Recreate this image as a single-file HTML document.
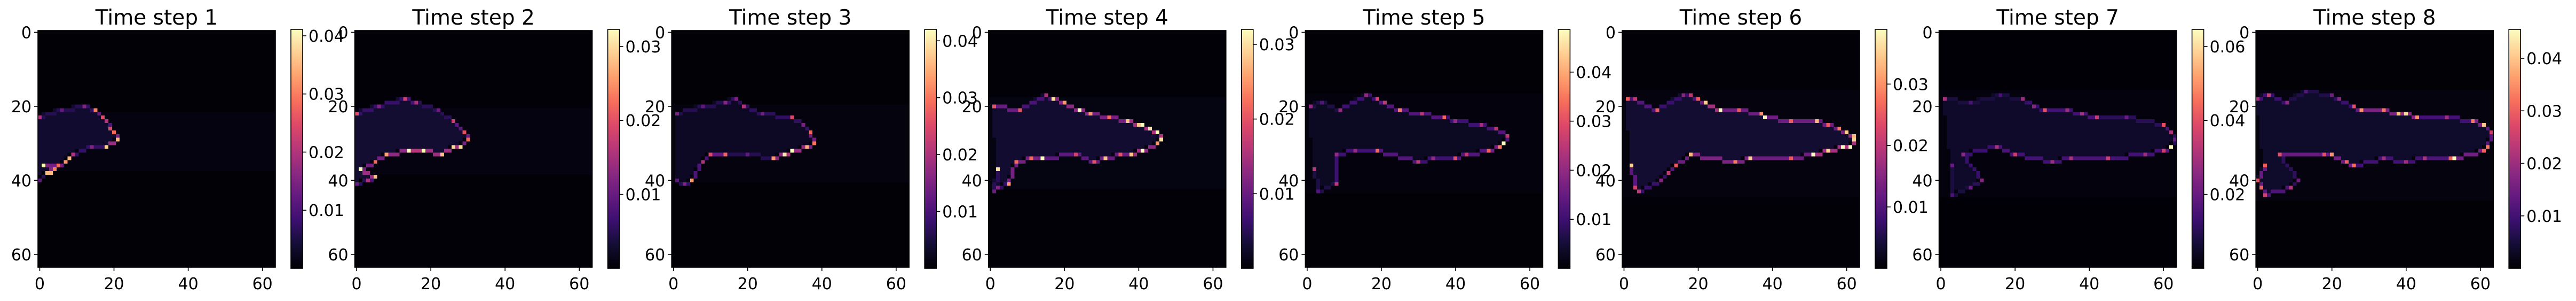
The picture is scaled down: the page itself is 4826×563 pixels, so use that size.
<!DOCTYPE html>
<html><head><meta charset="utf-8">
<style>
html,body{margin:0;padding:0;background:#fff;}
body{width:4826px;height:563px;position:relative;overflow:hidden;font-family:"DejaVu Sans","Liberation Sans",sans-serif;}
canvas.hm{position:absolute;image-rendering:pixelated;}
canvas.cb{position:absolute;}
svg{position:absolute;left:0;top:0;}
</style></head>
<body>
<svg id="ov" width="4826" height="563"></svg>
<script>
// ---- chart data ----
const panelTitles = ["Time step 1","Time step 2","Time step 3","Time step 4","Time step 5","Time step 6","Time step 7","Time step 8"];
const vmaxs = [0.0411,0.0323,0.042,0.032,0.0487,0.0389,0.0646,0.0455];
const vmins = [0,0,0,0,0,0,0,0];
const cbTickVals = [[0.01,0.02,0.03,0.04],[0.01,0.02,0.03],[0.01,0.02,0.03,0.04],[0.01,0.02,0.03],[0.01,0.02,0.03,0.04],[0.01,0.02,0.03],[0.02,0.04,0.06],[0.01,0.02,0.03,0.04]];
const cbTickLabels = [["0.01","0.02","0.03","0.04"],["0.01","0.02","0.03"],["0.01","0.02","0.03","0.04"],["0.01","0.02","0.03"],["0.01","0.02","0.03","0.04"],["0.01","0.02","0.03"],["0.02","0.04","0.06"],["0.01","0.02","0.03","0.04"]];
const axisTicks = [0,20,40,60];
const axisTickLabels = ["0","20","40","60"];
const interiorVals = [0.0035,0.003,0.0028,0.0028,0.003,0.0035,0.0048,0.0035];
const wakeRects = [[0,63,22,37,0.0009],[0,63,21,38,0.0008],[0,63,20,40,0.0008],[0,63,18,42,0.0008],[0,63,17,43,0.0009],[0,63,16,44,0.0008],[0,63,16,44,0.0012],[0,63,16,45,0.0009]];
const edgesP1 = [[0,23,0.02],[6,21,0.012],[12,20,0.015],[15,21,0.03],[17,23,0.025],[18,24,0.02],[19,26,0.025],[20,27,0.028],[21,29,0.035],[18,31,0.037],[14,31,0.015],[9,33,0.02],[8,34,0.035],[7,35,0.032],[5,36,0.028],[1,36,0.041],[4,37,0.03],[3,38,0.035],[2,38,0.035],[0,40,0.012]];
const edgesP2 = [[0,22,0.02],[6,20,0.012],[13,18,0.018],[16,19,0.015],[22,21,0.01],[26,24,0.018],[29,27,0.02],[30,29,0.022],[28,31,0.03],[26,31,0.03],[23,33,0.028],[18,32,0.032],[14,32,0.033],[8,33,0.026],[5,35,0.022],[1,37,0.033],[5,39,0.028],[3,40,0.015],[0,41,0.01]];
const edgesP3 = [[1,22,0.015],[8,20,0.012],[14,19,0.016],[17,18,0.015],[19,20,0.02],[24,22,0.014],[32,23,0.025],[35,25,0.015],[37,27,0.028],[38,30,0.03],[36,31,0.035],[32,32,0.042],[30,33,0.04],[27,34,0.033],[20,33,0.012],[14,33,0.028],[10,33,0.025],[8,35,0.02],[5,40,0.033],[3,41,0.015],[1,40,0.012]];
const edgesP4 = [[1,20,0.02],[8,21,0.02],[15,17,0.015],[17,18,0.03],[20,19,0.025],[24,21,0.033],[27,22,0.025],[32,23,0.022],[37,24,0.028],[40,25,0.028],[41,25,0.032],[43,26,0.03],[45,27,0.032],[46,29,0.03],[45,30,0.025],[41,32,0.032],[38,33,0.028],[35,33,0.02],[31,34,0.028],[28,35,0.02],[23,33,0.018],[14,34,0.032],[11,34,0.022],[7,35,0.022],[5,41,0.025],[2,42,0.012],[1,43,0.01],[2,37,0.03]];
const edgesP5 = [[1,20,0.02],[4,19,0.012],[9,21,0.02],[16,17,0.02],[19,18,0.028],[21,19,0.025],[25,21,0.035],[31,22,0.025],[37,23,0.033],[40,24,0.02],[47,25,0.022],[51,26,0.025],[54,28,0.025],[53,30,0.049],[52,31,0.035],[49,32,0.032],[43,33,0.025],[40,34,0.03],[34,34,0.02],[30,35,0.025],[19,32,0.033],[13,32,0.02],[8,33,0.02],[8,41,0.025],[3,43,0.012],[2,37,0.025]];
const edgesP6 = [[1,18,0.025],[3,18,0.02],[9,21,0.025],[16,17,0.015],[18,17,0.02],[20,18,0.025],[22,19,0.035],[26,21,0.039],[31,21,0.025],[37,22,0.03],[38,23,0.039],[45,24,0.025],[52,24,0.033],[55,25,0.025],[58,26,0.028],[60,27,0.035],[62,28,0.033],[62,29,0.035],[61,31,0.039],[59,31,0.039],[55,32,0.035],[51,33,0.039],[45,34,0.025],[34,34,0.035],[30,35,0.028],[18,33,0.033],[14,36,0.025],[12,38,0.02],[10,40,0.015],[4,43,0.02],[3,42,0.022],[2,36,0.035]];
const edgesP7 = [[1,18,0.03],[8,19,0.015],[16,17,0.015],[22,18,0.028],[25,20,0.025],[28,21,0.04],[34,21,0.028],[38,22,0.03],[42,23,0.035],[50,23,0.02],[60,25,0.04],[62,27,0.03],[63,29,0.02],[62,31,0.065],[60,32,0.035],[55,33,0.028],[45,34,0.035],[35,34,0.03],[30,35,0.028],[20,33,0.035],[15,31,0.03],[6,33,0.025],[11,40,0.025],[8,42,0.02],[3,44,0.015],[3,36,0.02]];
const edgesP8 = [[0,18,0.02],[3,17,0.025],[8,19,0.018],[13,16,0.012],[20,17,0.015],[22,18,0.018],[26,20,0.028],[28,21,0.035],[34,21,0.032],[38,22,0.04],[40,22,0.042],[43,23,0.035],[51,23,0.02],[58,24,0.032],[61,25,0.04],[63,27,0.025],[62,31,0.033],[61,32,0.03],[53,34,0.045],[52,34,0.03],[45,34,0.022],[40,35,0.02],[34,34,0.02],[26,36,0.032],[24,35,0.03],[20,33,0.035],[18,33,0.028],[6,33,0.028],[11,40,0.015],[9,42,0.022],[2,44,0.025],[1,42,0.03],[0,40,0.028],[2,36,0.03]];
const allEdges = [edgesP1,edgesP2,edgesP3,edgesP4,edgesP5,edgesP6,edgesP7,edgesP8];

// ---- layout ----
const PANEL_DX = 593.6, IMG_X = 71, IMG_Y = 57, IMG_W = 445, IMG_H = 443;
const CB_X = 545, CB_Y = 55, CB_W = 22, CB_H = 447, N = 64;
const magma = [[0,0,4],[20,14,54],[59,15,112],[100,26,128],[140,41,129],[183,55,121],[222,73,104],[247,112,92],[254,159,109],[254,207,146],[252,253,191]];
function cmap(t){t=Math.max(0,Math.min(1,t));const s=t*10,i=Math.min(9,Math.floor(s)),f=s-i;const a=magma[i],b=magma[i+1];return [0,1,2].map(k=>Math.round(a[k]+(b[k]-a[k])*f));}
function inPoly(x,y,pts){let c=false;for(let i=0,j=pts.length-1;i<pts.length;j=i++){const xi=pts[i][0],yi=pts[i][1],xj=pts[j][0],yj=pts[j][1];if(((yi>y)!==(yj>y))&&(x<(xj-xi)*(y-yi)/(yj-yi)+xi))c=!c;}return c;}
const svg=document.getElementById('ov');const NS='http://www.w3.org/2000/svg';
function mk(tag,attrs,parent){const e=document.createElementNS(NS,tag);for(const k in attrs)e.setAttribute(k,attrs[k]);(parent||svg).appendChild(e);return e;}

for(let p=0;p<8;p++){
  const dx=p*PANEL_DX, vmax=vmaxs[p], vmin=vmins[p];
  const grid=[];for(let r=0;r<N;r++){grid.push(new Array(N).fill(0.0002));}
  const w=wakeRects[p];
  for(let r=w[2];r<=w[3];r++)for(let c=w[0];c<=w[1];c++)grid[r][c]=Math.max(grid[r][c],w[4]);
  const pts=allEdges[p];
  for(let r=0;r<N;r++)for(let c=0;c<N;c++)if(inPoly(c+0.5,r+0.5,pts))grid[r][c]=Math.max(grid[r][c],interiorVals[p]);
  for(let i=0;i<pts.length-1;i++){const a=pts[i],b=pts[i+1];const st=Math.max(1,Math.round(Math.max(Math.abs(b[0]-a[0]),Math.abs(b[1]-a[1]))));
    for(let s=0;s<=st;s++){const t=s/st;const c=Math.round(a[0]+(b[0]-a[0])*t),r=Math.round(a[1]+(b[1]-a[1])*t);const v=(s===0)?a[2]:(s===st?b[2]:Math.min(a[2],b[2])*0.5);
      if(r>=0&&r<N&&c>=0&&c<N)grid[r][c]=Math.max(grid[r][c],v);}}
  const cv=document.createElement('canvas');cv.width=N;cv.height=N;cv.className='hm';
  
  
  cv.style.left=(IMG_X+dx)+'px';cv.style.top=IMG_Y+'px';cv.style.width=IMG_W+'px';cv.style.height=IMG_H+'px';
  const ctx=cv.getContext('2d');const im=ctx.createImageData(N,N);
  for(let r=0;r<N;r++)for(let c=0;c<N;c++){const col=cmap((grid[r][c]-vmin)/(vmax-vmin));const o=(r*N+c)*4;im.data[o]=col[0];im.data[o+1]=col[1];im.data[o+2]=col[2];im.data[o+3]=255;}
  ctx.putImageData(im,0,0);document.body.insertBefore(cv,svg);
  const cb=document.createElement('canvas');cb.width=1;cb.height=CB_H;cb.className='cb';
  
  
  cb.style.left=(CB_X+dx)+'px';cb.style.top=CB_Y+'px';cb.style.width=CB_W+'px';cb.style.height=CB_H+'px';
  const cctx=cb.getContext('2d');for(let y=0;y<CB_H;y++){const col=cmap(1-y/(CB_H-1));cctx.fillStyle='rgb('+col.join(',')+')';cctx.fillRect(0,y,1,1);}
  document.body.insertBefore(cb,svg);

  const g=mk('g',{});
  
  
  const fr=mk('rect',{x:IMG_X+dx,y:IMG_Y,width:IMG_W,height:IMG_H,fill:'none',stroke:'#000','stroke-width':1.6},g);
  
  
  const ti=mk('text',{x:IMG_X+dx+IMG_W/2,y:46,'text-anchor':'middle','font-size':39,fill:'#000'},g);ti.textContent=panelTitles[p];
  
  
  for(let i=0;i<axisTicks.length;i++){
    const yy=IMG_Y+(axisTicks[i]+0.5)*IMG_H/N;
    mk('line',{x1:IMG_X+dx-7,x2:IMG_X+dx,y1:yy,y2:yy,stroke:'#000','stroke-width':1.6},g);
    const yl=mk('text',{x:IMG_X+dx-12,y:yy+11,'text-anchor':'end','font-size':30,fill:'#000'},g);yl.textContent=axisTickLabels[i];
    
    
    const xx=IMG_X+dx+(axisTicks[i]+0.5)*IMG_W/N;
    mk('line',{x1:xx,x2:xx,y1:IMG_Y+IMG_H,y2:IMG_Y+IMG_H+7,stroke:'#000','stroke-width':1.6},g);
    const xl=mk('text',{x:xx,y:541,'text-anchor':'middle','font-size':30,fill:'#000'},g);xl.textContent=axisTickLabels[i];
    
    
  }
  const cf=mk('rect',{x:CB_X+dx,y:CB_Y,width:CB_W,height:CB_H,fill:'none',stroke:'#000','stroke-width':1.6},g);
  
  
  const tv=cbTickVals[p];
  for(let i=0;i<tv.length;i++){
    const yy=CB_Y+CB_H*(1-(tv[i]-vmin)/(vmax-vmin));
    mk('line',{x1:CB_X+dx+CB_W,x2:CB_X+dx+CB_W+7,y1:yy,y2:yy,stroke:'#000','stroke-width':1.6},g);
    const cl=mk('text',{x:CB_X+dx+CB_W+11,y:yy+11,'text-anchor':'start','font-size':30,fill:'#000'},g);cl.textContent=cbTickLabels[p][i];
    
    
  }
}
</script>
</body></html>
